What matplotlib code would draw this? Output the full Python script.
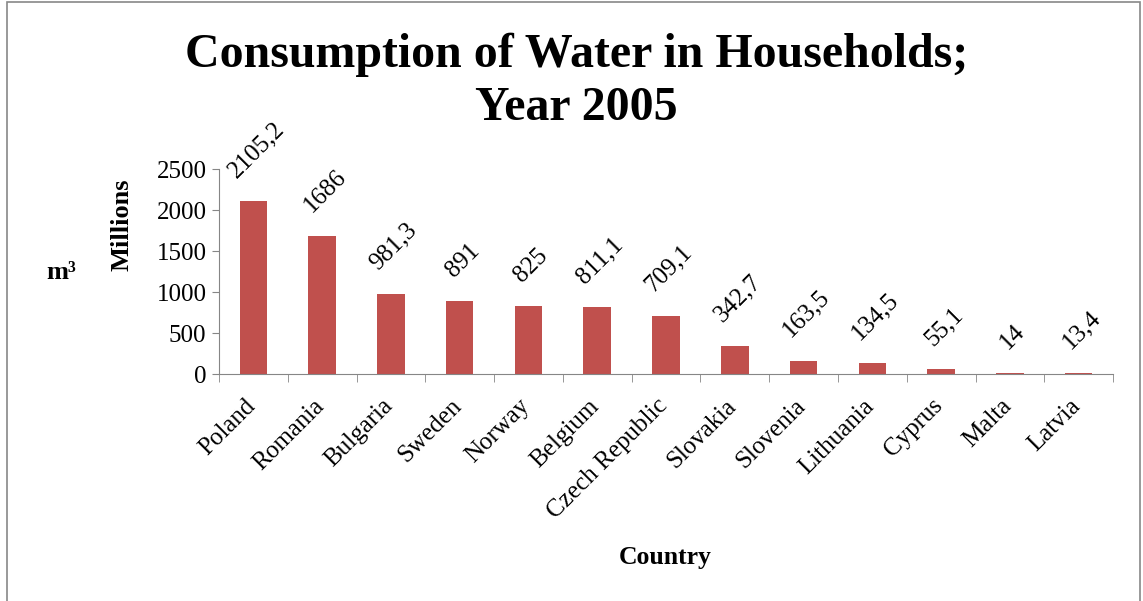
import numpy as np
import matplotlib.pyplot as plt
import matplotlib.transforms as mtransforms
from matplotlib.patches import Rectangle

countries = ['Poland', 'Romania', 'Bulgaria', 'Sweden', 'Norway', 'Belgium',
             'Czech Republic', 'Slovakia', 'Slovenia', 'Lithuania', 'Cyprus',
             'Malta', 'Latvia']
values = [2105.2, 1686, 981.3, 891, 825, 811.1, 709.1, 342.7, 163.5, 134.5,
          55.1, 14, 13.4]
value_labels = ['2105,2', '1686', '981,3', '891', '825', '811,1', '709,1',
                '342,7', '163,5', '134,5', '55,1', '14', '13,4']
yticks = [0, 500, 1000, 1500, 2000, 2500]

plt.rcParams['font.family'] = ['Liberation Serif', 'DejaVu Serif']

fig = plt.figure(figsize=(11.43, 6.01), dpi=100)
ax = fig.add_axes([0.1916, 0.3777, 0.7822, 0.3411])

x = np.arange(len(countries))
ax.bar(x, values, width=0.4, color='#C0504D')

# data labels, rotated like the Excel original
for xi, v, lab in zip(x, values, value_labels):
    ax.annotate(lab, (xi, v), xytext=(2, 14), textcoords='offset points',
                ha='center', va='bottom', rotation=45, fontsize=18)

ax.set_xlim(-0.5, len(countries) - 0.5)
ax.set_ylim(0, 2500)
ax.set_yticks(yticks)
ax.set_yticklabels([str(t) for t in yticks], fontsize=18)
ax.set_xticks(x)
ax.set_xticklabels(countries, rotation=45, ha='right', fontsize=18)
ax.set_xticks(np.arange(-0.5, len(countries)), minor=True)
ax.tick_params(axis='x', which='major', length=0, pad=15)
ax.tick_params(axis='x', which='minor', length=6, color='#868686', direction='out')
ax.tick_params(axis='y', length=5, color='#868686', direction='out', pad=4)

shift = mtransforms.ScaledTranslation(6 / 100, 0, fig.dpi_scale_trans)
for t in ax.get_xticklabels():
    t.set_transform(t.get_transform() + shift)

for s in ['top', 'right']:
    ax.spines[s].set_visible(False)
for s in ['left', 'bottom']:
    ax.spines[s].set_color('#868686')

fig.text(0.504, 0.9085, 'Consumption of Water in Households;',
         ha='center', va='center', fontsize=34.5, fontweight='bold')
fig.text(0.504, 0.820, 'Year 2005',
         ha='center', va='center', fontsize=34.5, fontweight='bold')
fig.text(0.107, 0.626, 'Millions', rotation=90, ha='center', va='center',
         fontsize=19, fontweight='bold')
fig.text(0.054, 0.547, 'm³', ha='center', va='center', fontsize=19, fontweight='bold')
fig.text(0.582, 0.073, 'Country', ha='center', va='center', fontsize=18.5, fontweight='bold')

fig.patches.append(Rectangle((0.006, -0.01), 0.991, 1.006, transform=fig.transFigure,
                             fill=False, edgecolor='#888888', linewidth=1.2))

fig.savefig('out.png', dpi=100)
